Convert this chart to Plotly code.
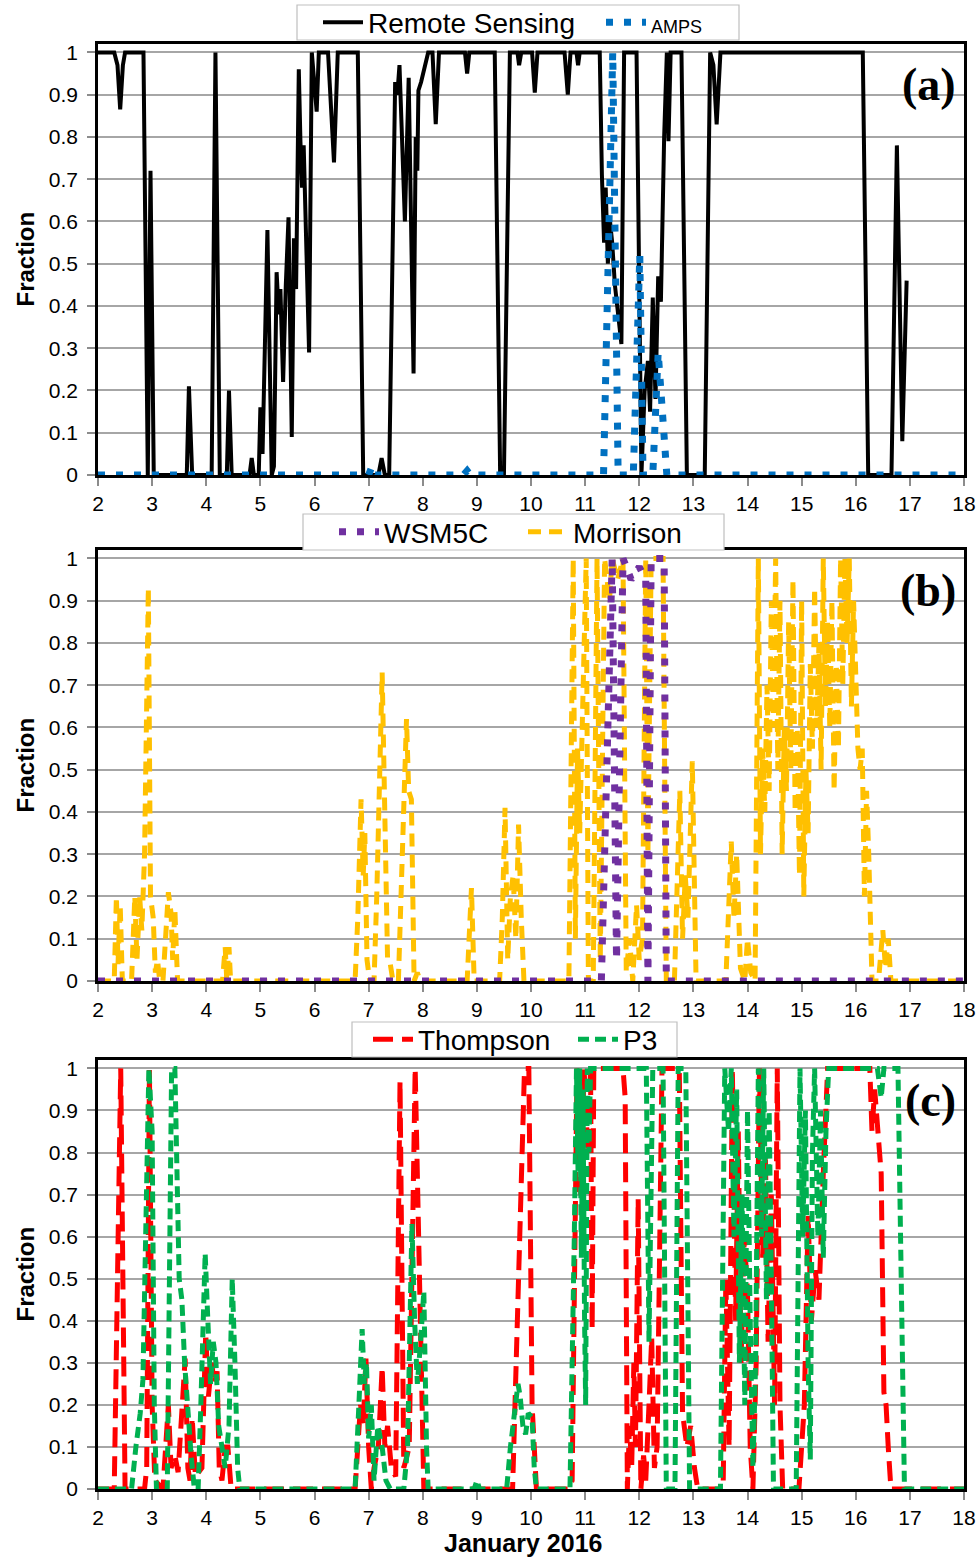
import plotly.graph_objects as go

# ---------------- data ----------------
days = list(range(2, 19))
y_ticks = [0, 0.1, 0.2, 0.3, 0.4, 0.5, 0.6, 0.7, 0.8, 0.9, 1]
y_tick_text = ["0", "0.1", "0.2", "0.3", "0.4", "0.5", "0.6", "0.7", "0.8", "0.9", "1"]

# Panel (a): Remote Sensing
rs_t = [2.00, 2.30, 2.36, 2.41, 2.46, 2.50, 2.84, 2.92, 2.97, 3.03, 3.64, 3.68, 3.74, 4.10, 4.17, 4.25,
        4.38, 4.42, 4.47, 4.80, 4.84, 4.88, 4.97, 5.00, 5.04, 5.09, 5.13, 5.21, 5.25, 5.30, 5.34, 5.37,
        5.42, 5.47, 5.52, 5.58, 5.62, 5.66, 5.71, 5.74, 5.77, 5.80, 5.90, 5.95, 5.99, 6.04, 6.08, 6.25,
        6.36, 6.43, 6.80, 6.90, 7.18, 7.24, 7.30, 7.38, 7.49, 7.53, 7.57, 7.67, 7.74, 7.83, 7.87, 7.90,
        7.92, 7.97, 8.10, 8.18, 8.24, 8.30, 8.78, 8.82, 8.86, 9.33, 9.43, 9.50, 9.61, 9.75, 9.78, 9.82,
        10.02, 10.07, 10.12, 10.62, 10.68, 10.73, 10.84, 10.87, 10.90, 11.27, 11.31, 11.35, 11.38, 11.42,
        11.46, 11.50, 11.55, 11.67, 11.72, 11.95, 12.04, 12.10, 12.16, 12.20, 12.25, 12.30, 12.35, 12.40,
        12.46, 12.51, 12.54, 12.58, 12.78, 12.88, 13.21, 13.31, 13.37, 13.43, 13.50, 16.13, 16.23, 16.66,
        16.76, 16.86, 16.94]
rs_v = [1, 1, 0.97, 0.865, 0.97, 1, 1, 0, 0.72, 0, 0, 0.21, 0, 0, 1.0, 0,
        0, 0.2, 0, 0, 0.04, 0, 0, 0.16, 0.05, 0.3, 0.58, 0, 0.02, 0.48, 0.38, 0.44,
        0.22, 0.45, 0.61, 0.09, 0.56, 0.44, 0.96, 0.79, 0.68, 0.78, 0.29, 1.0, 0.93, 0.86, 1.0, 1.0,
        0.74, 1.0, 1.0, 0, 0, 0.04, 0, 0, 0.93, 0.9, 0.97, 0.6, 0.94, 0.24, 0.8, 0.72,
        0.91, 0.93, 1.0, 1.0, 0.83, 1.0, 1.0, 0.95, 1.0, 1.0, 0, 0, 1.0, 1.0, 0.97, 1.0,
        1.0, 0.905, 1.0, 1.0, 0.9, 1.0, 1.0, 0.97, 1.0, 1.0, 0.71, 0.55, 0.68, 0.5,
        0.6, 0.55, 0.45, 0.31, 1.0, 1.0, 0, 0.2, 0.27, 0.15, 0.42, 0.18, 0.47, 0.41,
        0.8, 1.0, 0.79, 1.0, 1.0, 0, 0, 1.0, 0.97, 0.83, 1.0, 1.0, 0, 0,
        0.78, 0.08, 0.46]

# Panel (a): AMPS
amps_t = [2.0, 7.0, 7.06, 7.12, 8.75, 8.82, 8.88, 11.34, 11.51, 11.61, 11.89, 12.01, 12.07, 12.25, 12.35, 12.51, 18.0]
amps_v = [0, 0, 0.02, 0, 0, 0.01, 0, 0, 1.0, 0, 0, 0.52, 0, 0, 0.29, 0, 0]

# Panel (b): WSM5C
wsm_t = [2.0, 11.30, 11.50, 11.58, 11.70, 11.85, 12.00, 12.12, 12.16, 12.22, 12.46, 12.50, 18.0]
wsm_v = [0, 0, 1.0, 0.05, 1.0, 0.95, 0.98, 0.95, 0.0, 1.0, 1.0, 0.0, 0]

# Panel (b): Morrison
mor_t = [2.00, 2.30, 2.34, 2.37, 2.41, 2.45, 2.62, 2.68, 2.72, 2.77, 2.81, 2.86, 2.93, 2.97, 3.02, 3.06,
         3.10, 3.14, 3.20, 3.26, 3.30, 3.35, 3.38, 3.42, 3.47, 4.30, 4.35, 4.38, 4.42, 4.45, 6.75, 6.80,
         6.86, 6.90, 6.93, 6.97, 7.02, 7.10, 7.15, 7.25, 7.30, 7.35, 7.40, 7.45, 7.55, 7.60, 7.70, 7.74,
         7.79, 7.84, 7.90, 7.95, 8.82, 8.90, 8.95, 9.42, 9.47, 9.52, 9.57, 9.62, 9.67, 9.72, 9.77, 9.82,
         9.87, 10.70, 10.78, 10.82, 10.86, 10.90, 10.94, 10.98, 11.02, 11.06, 11.15, 11.22, 11.28, 11.36,
         11.45, 11.50, 11.60, 11.70, 11.76, 11.82, 11.88, 11.95, 12.00, 12.06, 12.12, 12.16, 12.22, 12.44,
         12.50, 12.65, 12.75, 12.80, 12.85, 12.90, 12.98, 13.05, 13.60, 13.70, 13.75, 13.80, 13.87, 13.95,
         14.00, 14.06, 14.12, 14.14, 14.20, 14.24, 14.28, 14.32, 14.36, 14.40, 14.44, 14.48, 14.52, 14.56,
         14.60, 14.64, 14.68, 14.72, 14.76, 14.80, 14.84, 14.88, 14.92, 14.96, 15.00, 15.04, 15.08, 15.12,
         15.16, 15.20, 15.24, 15.28, 15.32, 15.36, 15.40, 15.44, 15.48, 15.52, 15.56, 15.60, 15.64, 15.68,
         15.72, 15.76, 15.80, 15.84, 15.88, 15.92, 15.96, 16.00, 16.04, 16.08, 16.12, 16.16, 16.20, 16.24,
         16.30, 16.42, 16.50, 16.55, 16.60, 16.65, 18.00]
mor_v = [0, 0, 0.2, 0.04, 0.18, 0.0, 0, 0.2, 0.05, 0.2, 0.12, 0.3, 0.93, 0.2, 0.15, 0.02,
         0.05, 0.0, 0, 0.13, 0.21, 0.16, 0.05, 0.17, 0.0, 0, 0.08, 0.0, 0.08, 0, 0, 0.15,
         0.43, 0.25, 0.35, 0.05, 0.0, 0, 0.2, 0.73, 0.4, 0.05, 0.04, 0, 0, 0.2, 0.62, 0.45,
         0.43, 0.0, 0.02, 0, 0, 0.22, 0, 0, 0.15, 0.41, 0.05, 0.2, 0.25, 0.1, 0.37, 0.15,
         0.0, 0, 1.0, 0.1, 0.55, 0.35, 0.6, 0.75, 1.0, 0.0, 0.0, 1.0, 0.05, 1.0,
         0.9, 1.0, 0.95, 1.0, 0.02, 0.1, 0.0, 0.18, 0.05, 0.1, 1.0, 0.3, 1.0, 1.0,
         0.0, 0, 0.45, 0.1, 0.25, 0.15, 0.52, 0.0, 0, 0.33, 0.15, 0.3, 0.03, 0.0,
         0.1, 0.02, 0.0, 0, 1.0, 0.3, 0.55, 0.4, 0.7, 0.45, 0.9, 0.6, 1.0, 0.5,
         0.9, 0.3, 0.6, 0.45, 0.85, 0.5, 0.95, 0.4, 0.6, 0.25, 0.9, 0.2, 0.5, 0.35,
         0.75, 0.55, 0.93, 0.6, 0.8, 0.5, 1.0, 0.65, 0.85, 0.6, 0.9, 0.45, 0.75, 0.55,
         1.0, 0.7, 1.0, 0.8, 1.0, 0.65, 0.9, 0.75, 0.55, 0.5, 0.55, 0.2, 0.45, 0.3,
         0.0, 0, 0.12, 0.03, 0.1, 0.0, 0]

# Panel (c): Thompson
tho_t = [2.00, 2.30, 2.42, 2.50, 2.86, 2.90, 2.95, 3.00, 3.05, 3.20, 3.25, 3.30, 3.35, 3.42, 3.48, 3.55,
         3.61, 3.66, 3.70, 3.74, 3.80, 3.92, 3.99, 4.04, 4.10, 4.15, 4.20, 4.24, 4.29, 4.35, 4.40, 4.46,
         6.75, 6.80, 6.85, 6.90, 6.95, 7.00, 7.05, 7.10, 7.18, 7.25, 7.30, 7.35, 7.42, 7.50, 7.58, 7.65,
         7.75, 7.86, 7.95, 8.02, 9.66, 9.88, 9.96, 10.02, 10.06, 10.10, 10.70, 10.76, 10.85, 10.92, 10.98,
         11.05, 11.10, 11.13, 11.16, 11.70, 11.74, 11.78, 11.82, 11.86, 11.90, 11.93, 11.98, 12.03, 12.08,
         12.12, 12.18, 12.23, 12.28, 12.33, 12.42, 12.74, 12.80, 12.88, 12.95, 13.02, 13.08, 13.55, 13.60,
         13.66, 13.72, 13.78, 13.83, 13.88, 13.94, 14.00, 14.05, 14.10, 14.16, 14.22, 14.28, 14.33, 14.38,
         14.44, 14.50, 14.55, 14.60, 14.65, 14.95, 15.05, 15.12, 15.18, 15.25, 15.32, 15.40, 15.48, 16.26,
         16.30, 16.35, 16.40, 16.47, 16.52, 16.56, 16.60, 16.65, 18.00]
tho_v = [0, 0, 1.0, 0.0, 0.0, 0.05, 1.0, 0.2, 0.02, 0.0, 0.1, 0.2, 0.05, 0.08, 0.04, 0.2,
         0.31, 0.05, 0.02, 0.17, 0.03, 0.05, 0.37, 0.22, 0.3, 0.25, 0.28, 0.05, 0.02, 0.1, 0.1, 0.0,
         0, 0.1, 0.2, 0.15, 0.31, 0.1, 0.0, 0.05, 0.1, 0.29, 0.1, 0.15, 0.05, 0.03, 0.97, 0.05,
         0.1, 1.0, 0.49, 0.0, 0, 1.0, 1.0, 0.2, 0.1, 0.0, 0, 0.02, 1.0, 0.7, 1.0,
         0.8, 1.0, 0.38, 1.0, 1.0, 0.93, 0.0, 0.15, 0.05, 0.3, 0.1, 0.69, 0.0, 0.08,
         0.02, 0.2, 0.36, 0.05, 0.1, 1.0, 1.0, 0.18, 0.1, 0.15, 0.05, 0.0, 0, 0.5,
         0.1, 1.0, 0.4, 0.85, 0.3, 0.6, 0.47, 0.1, 0.0, 0.3, 1.0, 0.55, 0.8, 0.35,
         0.7, 0.2, 1.0, 0.2, 0.0, 0.0, 0.2, 0.65, 0.4, 0.52, 0.45, 0.75, 1.0, 1.0,
         0.85, 0.95, 0.85, 0.75, 0.23, 0.2, 0.1, 0.0, 0]

# Panel (c): P3
p3_t = [2.00, 2.62, 2.70, 2.78, 2.83, 2.88, 2.94, 3.00, 3.04, 3.08, 3.28, 3.36, 3.42, 3.50, 3.55, 3.60,
        3.65, 3.72, 3.78, 3.85, 3.90, 3.98, 4.03, 4.08, 4.13, 4.18, 4.23, 4.28, 4.35, 4.42, 4.48, 4.53,
        4.58, 4.62, 6.75, 6.82, 6.88, 6.92, 6.96, 7.00, 7.05, 7.10, 7.17, 7.25, 7.32, 7.40, 7.65, 7.72,
        7.80, 7.85, 7.90, 7.96, 8.02, 8.07, 8.10, 8.95, 9.00, 9.05, 9.55, 9.62, 9.70, 9.76, 9.80, 9.85,
        9.90, 9.95, 10.02, 10.06, 10.10, 10.72, 10.80, 10.84, 10.87, 10.90, 10.93, 10.96, 10.99, 11.01,
        11.04, 11.07, 11.10, 12.13, 12.18, 12.25, 12.44, 12.50, 12.66, 12.72, 12.86, 12.93, 13.50, 13.58,
        13.65, 13.70, 13.75, 13.80, 13.85, 13.90, 13.95, 14.00, 14.05, 14.10, 14.15, 14.20, 14.26, 14.30,
        14.35, 14.40, 14.44, 14.48, 14.90, 14.97, 15.02, 15.07, 15.12, 15.16, 15.20, 15.24, 15.30, 15.35,
        15.40, 15.45, 15.50, 16.40, 16.47, 16.52, 16.78, 16.90, 18.00]
p3_v = [0, 0, 0.1, 0.18, 0.26, 0.6, 1.0, 0.85, 0.2, 0.0, 0, 1.0, 1.0, 0.5, 0.45, 0.3,
        0.2, 0.08, 0.0, 0, 0.2, 0.56, 0.4, 0.25, 0.35, 0.3, 0.15, 0.1, 0.05, 0.15, 0.5, 0.3,
        0.05, 0.0, 0, 0.2, 0.38, 0.25, 0.3, 0.12, 0.2, 0.02, 0.15, 0.1, 0.02, 0.0, 0, 0.1,
        0.63, 0.4, 0.25, 0.35, 0.47, 0.1, 0.0, 0, 0.02, 0, 0, 0.1, 0.2, 0.25, 0.22, 0.15,
        0.13, 0.18, 0.17, 0.05, 0.0, 0, 0.6, 1.0, 0.75, 1.0, 0.55, 0.95, 0.4, 0.2,
        1.0, 0.8, 1.0, 1.0, 0.35, 1.0, 1.0, 0.0, 0.0, 1.0, 1.0, 0.0, 0, 1.0,
        0.85, 1.0, 0.6, 0.95, 0.3, 0.7, 0.2, 0.9, 0.4, 0.05, 0.3, 1.0, 0.6, 1.0,
        0.45, 0.9, 0.5, 0.0, 0, 1.0, 0.6, 0.9, 0.3, 0.07, 0.8, 1.0, 0.6, 0.9,
        0.55, 0.85, 1.0, 1.0, 0.93, 1.0, 1.0, 0.0, 0]

# ---------------- layout helpers ----------------
# All positions are given in screenshot pixels (the page margin is removed).
W, H = 980, 1557
ML, MR, MT, MB = 98, 16, 44, 68
PW, PH = W - ML - MR, H - MT - MB
FONT = "Liberation Sans, Arial, sans-serif"
SERIF = "Liberation Serif, Times New Roman, serif"


def px_x(px):
    return (px - ML) / PW


def px_y(py):
    return (H - MB - py) / PH


def cont_x(px):
    return px / W


def cont_y(py):
    return 1 - py / H


panels = [(44, 475), (550, 981), (1060, 1489)]

fig = go.Figure()

# (a)
fig.add_trace(go.Scatter(x=rs_t, y=rs_v, mode="lines", name="Remote Sensing",
                         line=dict(color="black", width=4), xaxis="x", yaxis="y", legend="legend"))
fig.add_trace(go.Scatter(x=amps_t, y=amps_v, mode="lines",
                         name="<span style='font-size:18px'>AMPS</span>",
                         line=dict(color="#0070C0", width=7, dash="7px,11px"),
                         xaxis="x", yaxis="y", legend="legend"))
# (b)
fig.add_trace(go.Scatter(x=mor_t, y=mor_v, mode="lines", name="Morrison", legendrank=2,
                         line=dict(color="#FFC000", width=5, dash="13px,8px"),
                         xaxis="x2", yaxis="y2", legend="legend2"))
fig.add_trace(go.Scatter(x=wsm_t, y=wsm_v, mode="lines", name="WSM5C", legendrank=1,
                         line=dict(color="#7030A0", width=7, dash="7px,11px"),
                         xaxis="x2", yaxis="y2", legend="legend2"))
# (c)
fig.add_trace(go.Scatter(x=tho_t, y=tho_v, mode="lines", name="Thompson",
                         line=dict(color="#FF0000", width=5, dash="20px,9px"),
                         xaxis="x3", yaxis="y3", legend="legend3"))
fig.add_trace(go.Scatter(x=p3_t, y=p3_v, mode="lines", name="P3",
                         line=dict(color="#00B050", width=5, dash="11px,6px"),
                         xaxis="x3", yaxis="y3", legend="legend3"))

xcommon = dict(range=[2, 18], tickmode="array", tickvals=days, ticktext=[str(d) for d in days],
               showgrid=False, zeroline=False, showline=True, linecolor="black", linewidth=2.5,
               mirror=True, ticks="outside", ticklen=8, tickwidth=1.5, tickcolor="#8C8C8C",
               tickfont=dict(family=FONT, size=21, color="black"), ticklabelstandoff=0)
ycommon = dict(range=[0, 1.02], tickmode="array", tickvals=y_ticks, ticktext=y_tick_text,
               showgrid=True, gridcolor="#A6A6A6", gridwidth=1.5, zeroline=False, showline=True,
               linecolor="black", linewidth=2.5, mirror=True, ticks="outside", ticklen=8,
               tickwidth=1.5, tickcolor="#8C8C8C", tickfont=dict(family=FONT, size=21, color="black"),
               ticklabelstandoff=5)

layout_axes = {}
for i, (top, bot) in enumerate(panels):
    sfx = "" if i == 0 else str(i + 1)
    layout_axes["xaxis" + sfx] = dict(xcommon, domain=[0, 1], anchor="y" + sfx)
    layout_axes["yaxis" + sfx] = dict(ycommon, domain=[px_y(bot), px_y(top)], anchor="x" + sfx)

legend_boxes = [(297, 739, 5, 40), (303, 724, 514, 550), (352, 677, 1022, 1057)]
legend_left = [318, 334, 368]
legend_entry = [228, 134, 150]

shapes = []
for (x0, x1, y0, y1) in legend_boxes:
    shapes.append(dict(type="rect", xref="paper", yref="paper", x0=px_x(x0), x1=px_x(x1),
                       y0=px_y(y1), y1=px_y(y0), fillcolor="white",
                       line=dict(color="#BFBFBF", width=1.2), layer="above"))

legends = {}
for i, ((x0, x1, y0, y1), lx, ew) in enumerate(zip(legend_boxes, legend_left, legend_entry)):
    key = "legend" if i == 0 else "legend" + str(i + 1)
    legends[key] = dict(xref="container", yref="container", x=cont_x(lx), y=cont_y((y0 + y1) / 2),
                        xanchor="left", yanchor="middle", orientation="h",
                        bgcolor="rgba(0,0,0,0)", borderwidth=0, itemwidth=40,
                        entrywidth=ew, entrywidthmode="pixels",
                        font=dict(family=FONT, size=28, color="black"))

annotations = []
labels = ["(a)", "(b)", "(c)"]
for i, (top, bot) in enumerate(panels):
    sfx = "" if i == 0 else str(i + 1)
    annotations.append(dict(text="Fraction", textangle=-90, xref="paper", x=px_x(25),
                            yref="y" + sfx + " domain", y=0.5, showarrow=False,
                            font=dict(family=FONT, size=24, color="black", weight="bold"),
                            xanchor="center", yanchor="middle"))
    annotations.append(dict(text="<b>" + labels[i] + "</b>", xref="paper", x=px_x(958),
                            yref="y" + sfx + " domain", y=0.905, showarrow=False,
                            font=dict(family=SERIF, size=46, color="black"),
                            xanchor="right", yanchor="middle"))
annotations.append(dict(text="<b>January 2016</b>", xref="paper", x=px_x(523), yref="paper",
                        y=px_y(1543), showarrow=False, font=dict(family=FONT, size=25, color="black"),
                        xanchor="center", yanchor="middle"))

fig.update_layout(width=W, height=H, autosize=False,
                  margin=dict(l=ML, r=MR, t=MT, b=MB, pad=0, autoexpand=False),
                  paper_bgcolor="white", plot_bgcolor="white",
                  font=dict(family=FONT, color="black"),
                  showlegend=True, shapes=shapes, annotations=annotations,
                  **layout_axes, **legends)

fig.write_html("out.html", config={"displayModeBar": False},
               post_script="document.body.style.margin='0px';document.body.style.overflow='hidden';")
